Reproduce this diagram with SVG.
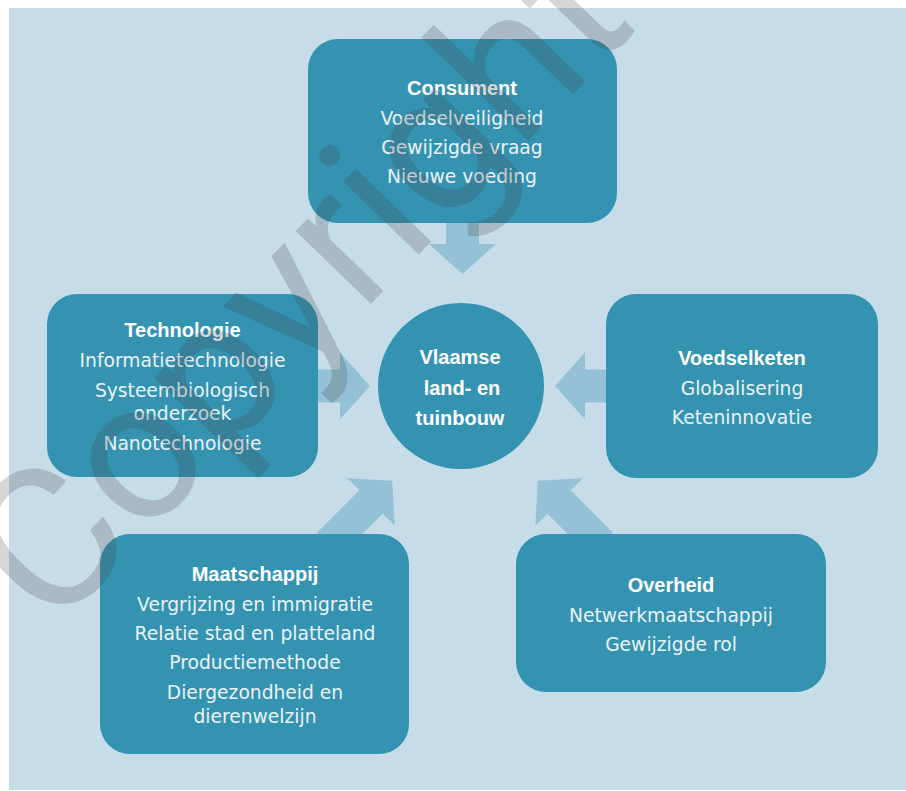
<svg xmlns="http://www.w3.org/2000/svg" width="906" height="791" viewBox="0 0 906 791">
  <defs>
    <style>
      .node { fill: #3593b2; }
      .arrow { fill: #95c1d6; }
      .title { font-family: "Liberation Sans", Arial, sans-serif; font-weight: bold; font-size: 20px; fill: #ffffff; text-anchor: middle; }
      .item { font-family: "DejaVu Sans", sans-serif; font-size: 18.7px; fill: #eaf2f6; text-anchor: middle; }
      .wm { font-family: Roboto, "Open Sans", sans-serif; font-weight: 400; font-size: 198px; fill: #3c3c3c; fill-opacity: 0.21; }
    </style>
    <path id="arrowShape" d="M -60 -16.5 L 0 -16.5 L 0 -33.5 L 30 0 L 0 33.5 L 0 16.5 L -60 16.5 Z"/>
  </defs>

  <rect x="0" y="0" width="906" height="791" fill="#ffffff"/>
  <rect x="9" y="8" width="897" height="782" fill="#c6dce8"/>

  <g id="connectors" class="arrow">
    <use href="#arrowShape" transform="translate(462.5,244) rotate(90)"/>
    <use href="#arrowShape" transform="translate(340,386)"/>
    <use href="#arrowShape" transform="translate(585,386) rotate(180)"/>
    <use href="#arrowShape" transform="translate(559,502) rotate(-135)"/>
    <use href="#arrowShape" transform="translate(371,502) rotate(-45)"/>
  </g>

  <g id="consument">
    <rect class="node" x="308" y="39" width="309" height="184" rx="30"/>
    <text class="title" x="462" y="95">Consument</text>
    <text class="item" x="462" y="125">Voedselveiligheid</text>
    <text class="item" x="462" y="154">Gewijzigde vraag</text>
    <text class="item" x="462" y="183">Nieuwe voeding</text>
  </g>

  <g id="technologie">
    <rect class="node" x="47" y="294" width="271" height="183" rx="30"/>
    <text class="title" x="182.5" y="337">Technologie</text>
    <text class="item" x="182.5" y="367">Informatietechnologie</text>
    <text class="item" x="182.5" y="397">Systeembiologisch</text>
    <text class="item" x="182.5" y="420">onderzoek</text>
    <text class="item" x="182.5" y="450">Nanotechnologie</text>
  </g>

  <g id="center">
    <circle class="node" cx="461" cy="386" r="83"/>
    <text class="title" x="460" y="364">Vlaamse</text>
    <text class="title" x="462" y="395">land- en</text>
    <text class="title" x="460" y="425">tuinbouw</text>
  </g>

  <g id="voedselketen">
    <rect class="node" x="606" y="294" width="272" height="184" rx="30"/>
    <text class="title" x="742" y="365">Voedselketen</text>
    <text class="item" x="742" y="395">Globalisering</text>
    <text class="item" x="742" y="424">Keteninnovatie</text>
  </g>

  <g id="maatschappij">
    <rect class="node" x="100" y="534" width="309" height="220" rx="30"/>
    <text class="title" x="255" y="581">Maatschappij</text>
    <text class="item" x="255" y="611">Vergrijzing en immigratie</text>
    <text class="item" x="255" y="640">Relatie stad en platteland</text>
    <text class="item" x="255" y="669">Productiemethode</text>
    <text class="item" x="255" y="699">Diergezondheid en</text>
    <text class="item" x="255" y="723">dierenwelzijn</text>
  </g>

  <g id="overheid">
    <rect class="node" x="516" y="534" width="310" height="158" rx="30"/>
    <text class="title" x="671" y="592">Overheid</text>
    <text class="item" x="671" y="622">Netwerkmaatschappij</text>
    <text class="item" x="671" y="651">Gewijzigde rol</text>
  </g>

  <g id="watermark">
    <text class="wm" transform="translate(52,634) rotate(-46)" x="0" y="0">Copyright</text>
  </g>
</svg>
